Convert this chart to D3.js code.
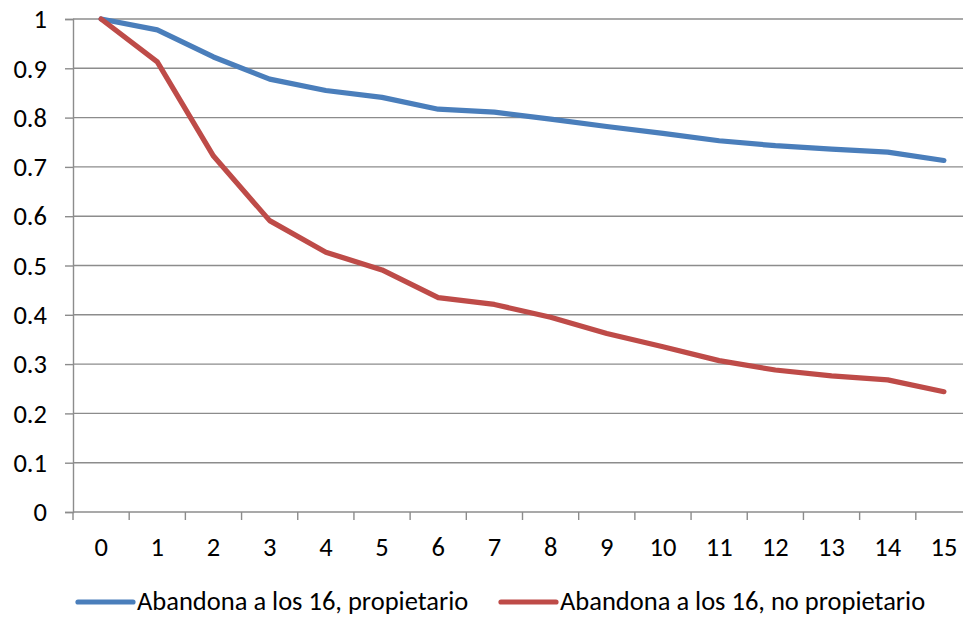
<!DOCTYPE html>
<html>
<head>
<meta charset="utf-8">
<script src="https://cdn.jsdelivr.net/npm/d3@7"></script>
<style>
  html, body { margin: 0; padding: 0; background: #fff; }
  svg { display: block; }
  text { font-family: Carlito, Lato, "Liberation Sans", sans-serif; fill: #000; }
</style>
</head>
<body>
<svg id="chart" width="963" height="617"></svg>
<script>
// Years since leaving school (category axis)
const categories = ["0","1","2","3","4","5","6","7","8","9","10","11","12","13","14","15"];

// Share remaining, by group
const propietario = [1.000, 0.978, 0.923, 0.878, 0.855, 0.841, 0.817, 0.811, 0.797, 0.782, 0.768, 0.753, 0.743, 0.736, 0.730, 0.713];
const noPropietario = [1.000, 0.913, 0.722, 0.591, 0.527, 0.491, 0.435, 0.421, 0.395, 0.362, 0.335, 0.307, 0.288, 0.276, 0.268, 0.244];

const seriesNames = ["Abandona a los 16, propietario", "Abandona a los 16, no propietario"];
const seriesColors = ["#4A7EBB", "#BE4B48"];
const yTicks = [0, 0.1, 0.2, 0.3, 0.4, 0.5, 0.6, 0.7, 0.8, 0.9, 1];

const svg = d3.select("#chart");
const plot = { left: 73, right: 972, top: 19, bottom: 512 };
const gridColor = "#8C8C8C";
const fontSize = "26.5px";

const x = d3.scaleBand().domain(categories).range([plot.left, plot.right]).padding(0);
const y = d3.scaleLinear().domain([0, 1]).range([plot.bottom, plot.top]);

// Horizontal gridlines
svg.append("g").selectAll("line").data(yTicks.filter(d => d > 0)).join("line")
  .attr("x1", plot.left).attr("x2", plot.right)
  .attr("y1", d => y(d)).attr("y2", d => y(d))
  .attr("stroke", gridColor).attr("stroke-width", 1.4);

// Y axis
const yAxis = svg.append("g").attr("transform", `translate(${plot.left},0)`)
  .call(d3.axisLeft(y).tickValues(yTicks).tickSize(8).tickPadding(18)
    .tickFormat(d => d === 0 ? "0" : d === 1 ? "1" : d3.format(".1f")(d)));
yAxis.select(".domain").attr("stroke", gridColor).attr("stroke-width", 1.4);
yAxis.selectAll(".tick line").attr("stroke", gridColor).attr("stroke-width", 1.4);
yAxis.selectAll(".tick text").style("font-size", fontSize).attr("dy", "0.33em")
  .style("font-family", "Carlito, Lato, sans-serif").attr("fill", "#000");

// X axis: ticks between categories
const xAxis = svg.append("g").attr("transform", `translate(0,${plot.bottom})`);
xAxis.append("line").attr("x1", plot.left).attr("x2", plot.right)
  .attr("stroke", gridColor).attr("stroke-width", 1.4);
const boundaries = categories.map(c => x(c)).concat([x(categories[categories.length - 1]) + x.bandwidth()]);
xAxis.selectAll("line.tk").data(boundaries).join("line").attr("class", "tk")
  .attr("x1", d => d).attr("x2", d => d).attr("y1", 0).attr("y2", 8)
  .attr("stroke", gridColor).attr("stroke-width", 1.4);
xAxis.selectAll("text").data(categories).join("text")
  .attr("x", d => x(d) + x.bandwidth() / 2).attr("y", 44)
  .attr("text-anchor", "middle").style("font-size", fontSize).text(d => d);

// Lines
const line = d3.line()
  .x((d, i) => x(categories[i]) + x.bandwidth() / 2)
  .y(d => y(d));
[propietario, noPropietario].forEach((vals, k) => {
  svg.append("path").datum(vals)
    .attr("d", line).attr("fill", "none")
    .attr("stroke", seriesColors[k]).attr("stroke-width", 5.2)
    .attr("stroke-linejoin", "round").attr("stroke-linecap", "round");
});

// Legend
const legendItems = [{ x: 78, name: seriesNames[0], color: seriesColors[0] },
                     { x: 501, name: seriesNames[1], color: seriesColors[1] }];
const lg = svg.append("g").attr("transform", "translate(0,601)");
legendItems.forEach(it => {
  lg.append("line").attr("x1", it.x).attr("x2", it.x + 55).attr("y1", 1).attr("y2", 1)
    .attr("stroke", it.color).attr("stroke-width", 5.2).attr("stroke-linecap", "round");
  lg.append("text").attr("x", it.x + 59).attr("y", 0).attr("dy", "0.33em")
    .style("font-size", fontSize).text(it.name);
});
</script>
</body>
</html>
